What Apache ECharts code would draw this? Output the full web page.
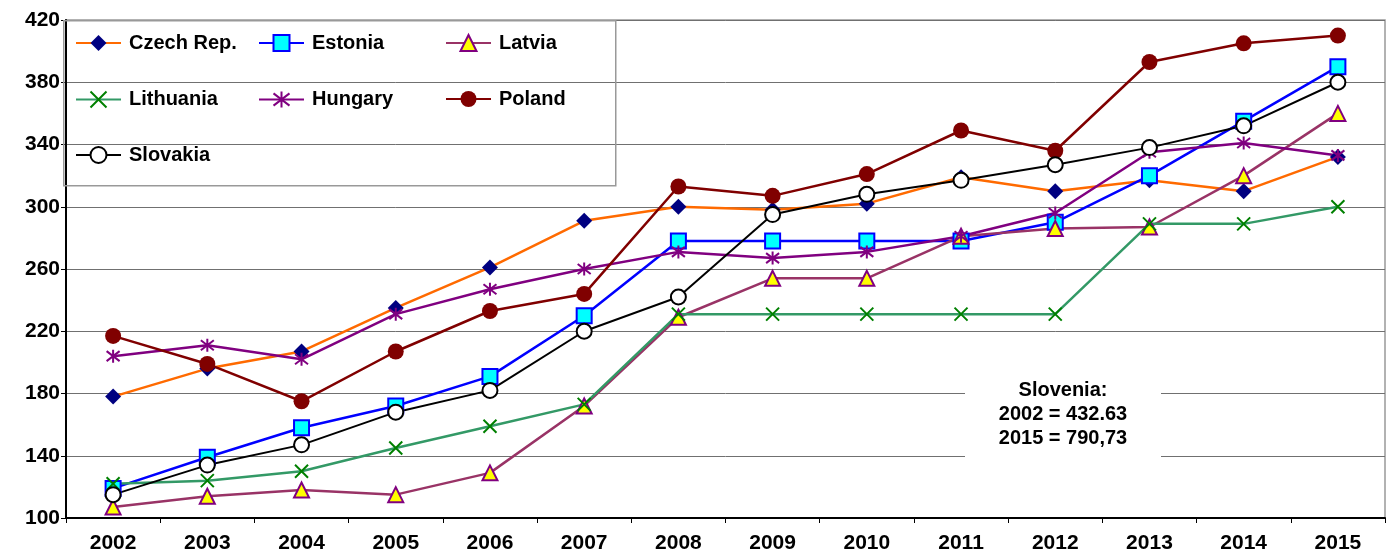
<!DOCTYPE html>
<html><head><meta charset="utf-8">
<script src="https://cdn.jsdelivr.net/npm/echarts@6/dist/echarts.min.js"></script>
<style>html,body{margin:0;padding:0;background:#fff}#c{width:1391px;height:556px}</style>
</head><body><div id="c"></div>
<script>
const years = ['2002','2003','2004','2005','2006','2007','2008','2009','2010','2011','2012','2013','2014','2015'];
const czech     = [178,196,207,235,261,291,300,298,302,319,310,317,310,332];
const estonia   = [119,139,158,172,191,230,278,278,278,278,290,320,355,390];
const latvia    = [107,114,118,115,129,172,229,254,254,281,286,287,320,360];
const lithuania = [122,124,130,145,159,173,231,231,231,231,231,289,289,300];
const hungary   = [204,211,202,231,247,260,271,267,271,281,296,335,341,333];
const poland    = [217,199,175,207,233,244,313,307,321,349,336,393,405,410];
const slovakia  = [115,134,147,168,182,220,242,295,308,317,327,338,352,380];
const yTicks = {min:100, max:420, interval:40};
const note = ['Slovenia:', '2002 = 432.63', '2015 = 790,73'];

const F = 'Arial, "Liberation Sans", Helvetica, sans-serif';
const X_PATH = 'path://M0,0 L20,20 M20,0 L0,20';
const STAR_PATH = 'path://M0,0 L20,20 M20,0 L0,20 M10,-3 L10,23';

function mk(name, data, lineColor, symbol, size, fill, border, bw, lw) {
  return {
    name, type:'line', data, symbol, symbolSize:size, showAllSymbol:true,
    lineStyle:{color:lineColor, width:lw||2.5},
    itemStyle:{color:fill, borderColor:border, borderWidth:bw},
    emphasis:{disabled:true}, animation:false, z:2
  };
}
const series = [
  mk('Czech Rep.', czech, '#FF6A00', 'diamond', 16, '#000080', '#000080', 0),
  mk('Estonia', estonia, '#0000FF', 'rect', 15, '#00FFFF', '#0000FF', 2),
  mk('Latvia', latvia, '#993366', 'triangle', 15, '#FFFF00', '#800080', 2),
  mk('Lithuania', lithuania, '#339966', X_PATH, 13, 'none', '#008000', 2),
  mk('Hungary', hungary, '#800080', STAR_PATH, 13, 'none', '#800080', 2),
  mk('Poland', poland, '#800000', 'circle', 16, '#800000', '#800000', 0),
  mk('Slovakia', slovakia, '#000000', 'circle', 15, '#FFFFFF', '#000000', 2, 2)
];

const legendPos = [
  ['Czech Rep.', 75, 33], ['Estonia', 258, 33], ['Latvia', 445, 33],
  ['Lithuania', 75, 89], ['Hungary', 258, 89], ['Poland', 445, 89],
  ['Slovakia', 75, 145]
];
const legends = legendPos.map(([n,x,y]) => ({
  data:[n], left:x, top:y, itemWidth:45, itemHeight:20, itemGap:10,
  padding:0, selectedMode:false,
  textStyle:{fontFamily:F, fontWeight:'bold', fontSize:20, color:'#000', padding:[0,0,0,3]}
}));

const chart = echarts.init(document.getElementById('c'), null, {renderer:'canvas'});
chart.setOption({
  backgroundColor:'#fff',
  animation:false,
  legend: legends,
  grid:{left:66, right:6, top:20, bottom:38, show:true, borderColor:'#999', borderWidth:1.5, backgroundColor:'transparent'},
  xAxis:{
    type:'category', data:years, boundaryGap:true,
    axisLine:{lineStyle:{color:'#000', width:2}},
    axisTick:{show:true, length:5, lineStyle:{color:'#000'}},
    axisLabel:{fontFamily:F, fontWeight:'bold', fontSize:21, color:'#000', margin:15}
  },
  yAxis:{
    type:'value', min:yTicks.min, max:yTicks.max, interval:yTicks.interval,
    axisLine:{show:true, lineStyle:{color:'#000', width:2}},
    axisTick:{show:true, length:5, lineStyle:{color:'#000'}},
    splitLine:{lineStyle:{color:'#707070', width:1}},
    axisLabel:{fontFamily:F, fontWeight:'bold', fontSize:21, color:'#000', margin:6}
  },
  graphic:[
    {type:'rect', left:63, top:20, shape:{width:552, height:165}, style:{fill:'transparent', stroke:'#999', lineWidth:1.5}, z:1},
    {type:'rect', left:965, top:368, shape:{width:196, height:92}, style:{fill:'#fff'}, z:1},
    {type:'text', style:{text:note.join('\n'), x:1063, y:378, textAlign:'center', font:'bold 20px '+F, fill:'#000', lineHeight:24}, z:3}
  ],
  series
});
</script></body></html>
